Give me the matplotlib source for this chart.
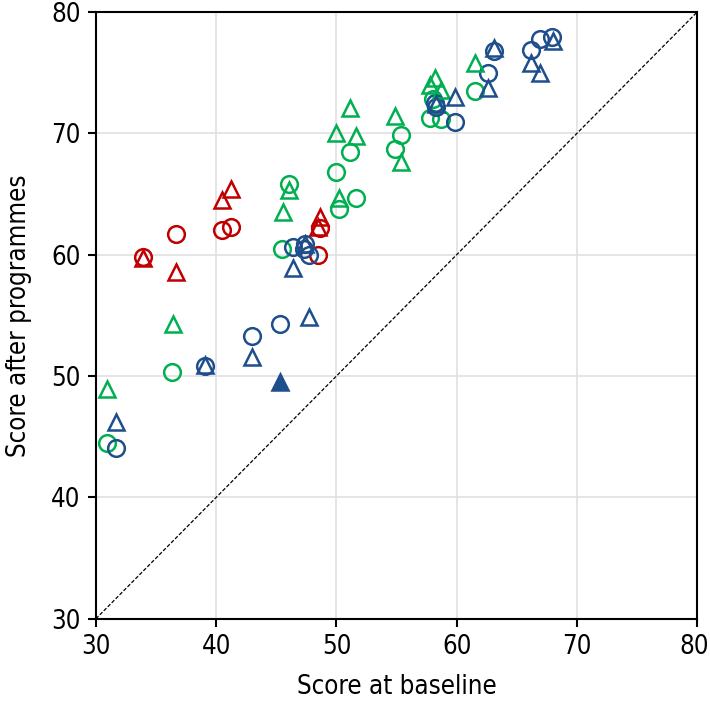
import numpy as np
import matplotlib.pyplot as plt

# colours for the three groups
red = '#C00000'
green = '#00B050'
blue = '#1F4E8C'

# data: (baseline, after)
red_circ_x = [33.9, 36.7, 40.5, 41.2, 48.5, 48.6]
red_circ_y = [59.8, 61.7, 62.0, 62.3, 60.0, 62.2]
red_tri_x = [33.9, 36.7, 40.5, 41.2, 48.6, 48.5]
red_tri_y = [59.7, 58.6, 64.5, 65.4, 63.1, 62.3]

green_circ_x = [30.9, 36.3, 45.5, 46.1, 50.0, 51.1, 51.6, 50.2, 55.4, 54.9, 58.0, 57.8, 58.7, 61.5]
green_circ_y = [44.5, 50.3, 60.5, 65.8, 66.8, 68.5, 64.7, 63.8, 69.9, 68.7, 72.8, 71.3, 71.2, 73.5]
green_tri_x = [30.9, 36.4, 46.1, 45.6, 50.0, 51.1, 51.6, 54.9, 55.4, 50.2, 58.2, 57.8, 58.7, 61.5]
green_tri_y = [48.9, 54.3, 65.3, 63.5, 70.0, 72.1, 69.8, 71.4, 67.6, 64.7, 74.6, 74.0, 73.6, 75.8]

blue_circ_x = [31.7, 39.1, 43.0, 45.3, 46.4, 47.4, 47.3, 47.7, 58.2, 59.9, 62.6, 63.1, 66.2, 66.9, 67.9, 58.3]
blue_circ_y = [44.1, 50.8, 53.3, 54.3, 60.6, 60.9, 60.5, 60.0, 72.5, 70.9, 75.0, 76.8, 76.9, 77.8, 77.9, 72.2]
blue_tri_x = [31.7, 39.1, 43.0, 46.4, 47.7, 47.4, 59.9, 62.6, 63.1, 66.2, 66.9, 68.0, 58.3]
blue_tri_y = [46.2, 50.9, 51.6, 58.9, 54.9, 60.9, 73.0, 73.7, 77.0, 75.8, 75.0, 77.6, 72.4]

blue_fill_x = [45.3]
blue_fill_y = [49.5]

plt.rcParams['font.family'] = ['DejaVu Sans']
plt.rcParams['font.stretch'] = 'condensed'

fig = plt.figure(figsize=(7.1, 7.04), dpi=100)
ax = fig.add_axes([0.135, 0.121, 0.847, 0.862])

# identity line
ax.plot([30, 80], [30, 80], ls=(0, (3, 1.5)), c='black', lw=0.9, zorder=2)

ms = 12
mew = 1.8
for x, y, c in [(red_circ_x, red_circ_y, red), (green_circ_x, green_circ_y, green),
                (blue_circ_x, blue_circ_y, blue)]:
    ax.plot(x, y, 'o', ms=ms, mfc='none', mec=c, mew=mew, zorder=3)
for x, y, c in [(red_tri_x, red_tri_y, red), (green_tri_x, green_tri_y, green),
                (blue_tri_x, blue_tri_y, blue)]:
    ax.plot(x, y, '^', ms=ms, mfc='none', mec=c, mew=mew, zorder=3)
ax.plot(blue_fill_x, blue_fill_y, '^', ms=ms, mfc=blue, mec=blue, mew=mew, zorder=3)

ax.set_xlim(30, 80)
ax.set_ylim(30, 80)
ax.set_xticks(np.arange(30, 81, 10))
ax.set_yticks(np.arange(30, 81, 10))
ax.grid(color='#E0E0E0', lw=1.2, zorder=0)
ax.set_axisbelow(True)
for s in ax.spines.values():
    s.set_linewidth(1.5)
ax.tick_params(direction='out', length=6, width=1.5, labelsize=18.5, pad=5)
ax.set_xlabel('Score at baseline', fontsize=18.5, labelpad=10)
ax.set_ylabel('Score after programmes', fontsize=18.5, labelpad=14)

# keep the last x tick label inside the canvas
ax.get_xticklabels()[-1].set_ha('right')
ax.get_xticklabels()[-1].set_x(80)
import matplotlib.transforms as mtransforms
lab = ax.get_xticklabels()[-1]
lab.set_transform(lab.get_transform() + mtransforms.ScaledTranslation(0.12, 0, fig.dpi_scale_trans))

plt.savefig('out.png', dpi=100)
